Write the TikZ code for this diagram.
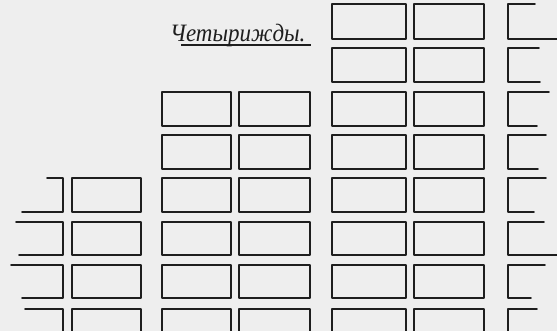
\documentclass[tikz,border=0pt]{standalone}
\usepackage{fontspec}
\newfontfamily\handfont{Liberation Serif}
\definecolor{paper}{HTML}{EEEEEE}
\definecolor{ink}{HTML}{1E1E1E}
\begin{document}
\begin{tikzpicture}[x=1pt,y=-1pt,
  brick/.style={draw=ink, line width=1.7pt, line join=round, line cap=round},
  title/.style={font=\handfont\itshape\fontsize{25}{25}\selectfont, text=ink, inner sep=0pt, anchor=base west}]
\fill[paper] (0,0) rectangle (557,331);
\useasboundingbox (0,0) rectangle (557,331);
\begin{scope}
\clip (0,0) rectangle (557,331);
% full bricks: column x-ranges and first row
\def\rowlist{4/39,48/82,92/126,135/169,178/212,222/255,265/298}
% columns B (from row 5), C and D (from row 3), E and F (from row 1)
\foreach \xa/\xb/\first in {72/141/5, 162/231/3, 239/310/3, 332/406/1, 414/484/1}{
  \foreach \ya/\yb [count=\r] in \rowlist{
    \ifnum\r<\first\else
      \draw[brick] (\xa,\ya) rectangle (\xb,\yb);
    \fi
  }
  \draw[brick] (\xa,335) -- (\xa,309) -- (\xb,309) -- (\xb,335);
}
% left partial column A (right edge at x=63)
\foreach \ya/\yb/\ta/\ba in {178/212/47/22, 222/255/16/19, 265/298/11/22}{
  \draw[brick] (\ta,\ya) -- (63,\ya) -- (63,\yb) -- (\ba,\yb);
}
\draw[brick] (25,309) -- (63,309) -- (63,335);
% right partial column G (left edge at x=508)
\foreach \ya/\yb/\ta/\ba in {4/39/535/560, 48/82/539/540, 92/126/549/537, 135/169/546/538, 178/212/546/534, 222/255/544/560, 265/298/545/531}{
  \draw[brick] (\ta,\ya) -- (508,\ya) -- (508,\yb) -- (\ba,\yb);
}
\draw[brick] (537,309) -- (508,309) -- (508,335);
\end{scope}
% handwritten title
\node[title] (ttl) at (170,42) {\scalebox{0.92}[1]{Четырижды.}};
\draw[ink, line width=1.1pt] (181,45) -- (311,45);
\end{tikzpicture}
\end{document}
